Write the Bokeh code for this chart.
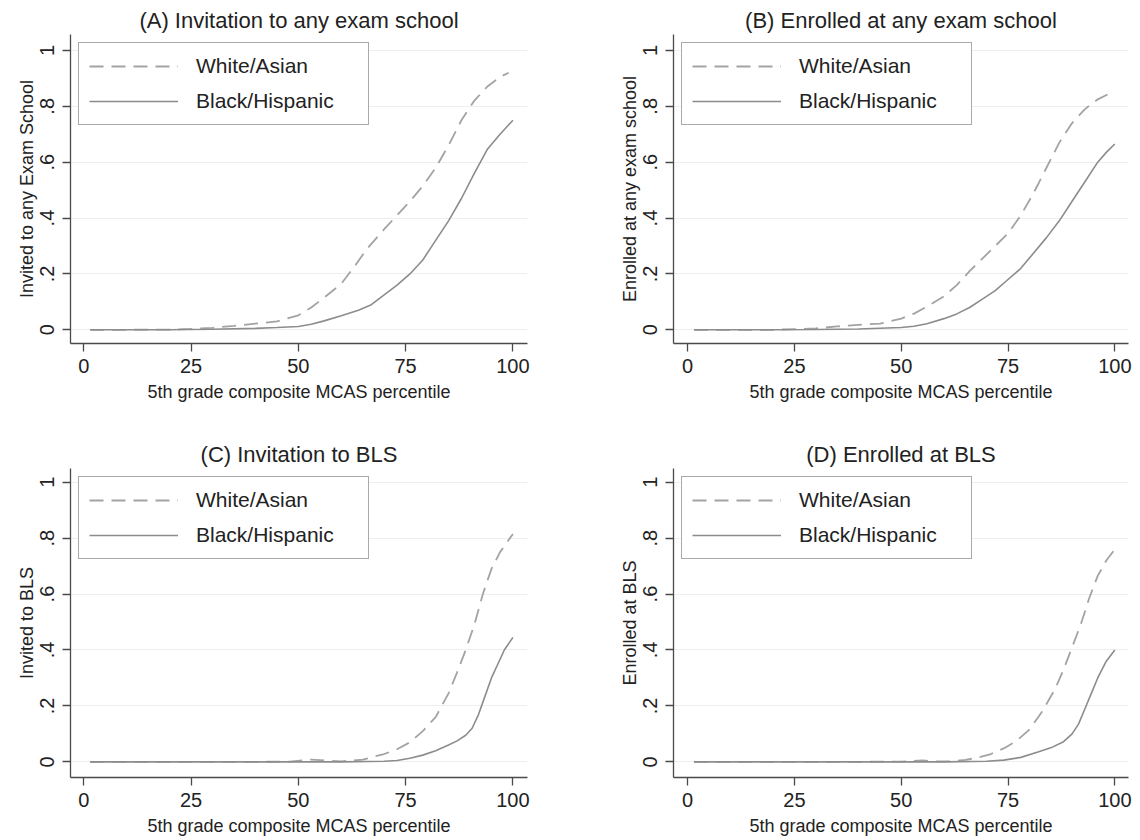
from bokeh.plotting import figure
from bokeh.models import FixedTicker, Range1d, Legend, LegendItem
from bokeh.layouts import gridplot
from bokeh.embed import file_html
from bokeh.resources import INLINE

# ---------------- data ----------------
x_label = "5th grade composite MCAS percentile"
x_ticks = [0, 25, 50, 75, 100]
y_ticks = [0, 0.2, 0.4, 0.6, 0.8, 1]
y_tick_labels = ["0", ".2", ".4", ".6", ".8", "1"]
series_names = ["White/Asian", "Black/Hispanic"]

# (A) Invitation to any exam school
a_title = "(A) Invitation to any exam school"
a_ylabel = "Invited to any Exam School"
a_x_wa = [1.5, 10, 20, 25, 30, 35, 40, 45, 50, 53, 56, 60, 63, 66, 70, 73, 76, 79, 82, 85, 88, 91, 94, 97, 99]
a_wa = [0, 0, 0.001, 0.003, 0.007, 0.014, 0.022, 0.03, 0.052, 0.08, 0.115, 0.165, 0.225, 0.29, 0.36,
        0.41, 0.46, 0.515, 0.58, 0.66, 0.75, 0.82, 0.87, 0.905, 0.92]
a_x_bh = [1.5, 10, 20, 30, 40, 45, 50, 53, 56, 60, 64, 67, 70, 73, 76, 79, 82, 85, 88, 91, 94, 97, 100]
a_bh = [0, 0, 0, 0.002, 0.005, 0.008, 0.012, 0.02, 0.032, 0.05, 0.07, 0.09, 0.125, 0.16, 0.20, 0.25,
        0.32, 0.39, 0.47, 0.56, 0.645, 0.70, 0.75]

# (B) Enrolled at any exam school
b_title = "(B) Enrolled at any exam school"
b_ylabel = "Enrolled at any exam school"
b_x_wa = [1.5, 20, 30, 35, 40, 45, 50, 53, 56, 60, 63, 66, 69, 72, 75, 78, 81, 84, 87, 90, 93, 96, 100]
b_wa = [0, 0, 0.005, 0.012, 0.018, 0.022, 0.04, 0.058, 0.083, 0.12, 0.16, 0.21, 0.255, 0.30, 0.345,
        0.41, 0.49, 0.58, 0.67, 0.74, 0.79, 0.825, 0.855]
b_x_bh = [1.5, 20, 30, 40, 50, 53, 56, 60, 63, 66, 69, 72, 75, 78, 81, 84, 87, 90, 93, 96, 98, 100]
b_bh = [0, 0, 0.001, 0.003, 0.008, 0.013, 0.022, 0.04, 0.057, 0.08, 0.11, 0.14, 0.18, 0.22, 0.275,
        0.33, 0.39, 0.46, 0.53, 0.60, 0.635, 0.665]

# (C) Invitation to BLS
c_title = "(C) Invitation to BLS"
c_ylabel = "Invited to BLS"
c_x_wa = [1.5, 20, 40, 48, 53, 56, 60, 65, 70, 73, 76, 79, 82, 85, 87, 89, 91, 93, 95, 97, 100]
c_wa = [0, 0, 0, 0.001, 0.008, 0.005, 0.002, 0.008, 0.028, 0.045, 0.07, 0.11, 0.16, 0.245, 0.32,
        0.40, 0.49, 0.60, 0.69, 0.75, 0.815]
c_x_bh = [1.5, 20, 40, 60, 70, 73, 76, 79, 82, 85, 87, 89, 90.5, 92, 93.5, 95, 96.5, 98, 100]
c_bh = [0, 0, 0, 0, 0.002, 0.005, 0.013, 0.024, 0.04, 0.06, 0.075, 0.095, 0.12, 0.17, 0.235, 0.30,
        0.35, 0.40, 0.445]

# (D) Enrolled at BLS
d_title = "(D) Enrolled at BLS"
d_ylabel = "Enrolled at BLS"
d_x_wa = [1.5, 20, 40, 50, 55, 58, 62, 65, 68, 71, 74, 77, 80, 83, 86, 88, 90, 92, 94, 96, 98, 100]
d_wa = [0, 0, 0, 0.001, 0.005, 0.002, 0.002, 0.007, 0.015, 0.028, 0.048, 0.075, 0.115, 0.18, 0.26,
        0.33, 0.41, 0.49, 0.585, 0.665, 0.72, 0.76]
d_x_bh = [1.5, 20, 40, 60, 70, 74, 78, 82, 85, 88, 90, 91.5, 93, 94.5, 96, 98, 100]
d_bh = [0, 0, 0, 0, 0.002, 0.006, 0.016, 0.035, 0.05, 0.072, 0.10, 0.135, 0.19, 0.245, 0.30, 0.36, 0.40]

# ---------------- styling ----------------
FONT = "Liberation Sans"
TEXT = "#222222"
AXIS = "#4a4a4a"
WA_COLOR = "#a3a3a3"
BH_COLOR = "#8c8c8c"


def make_panel(title, ylabel, xw, yw, xb, yb, left, right, top, bottom, xr, yr):
    p = figure(width=570, height=420, output_backend="svg", toolbar_location=None,
               x_range=Range1d(*xr), y_range=Range1d(*yr),
               min_border_left=left, min_border_right=right,
               min_border_top=top, min_border_bottom=bottom,
               background_fill_color="white", border_fill_color="white")
    p.outline_line_color = None
    p.title.text = title
    p.title.align = "center"
    p.title.text_font = FONT
    p.title.text_font_size = "22px"
    p.title.text_font_style = "normal"
    p.title.text_color = TEXT
    p.title.standoff = 4

    p.xgrid.grid_line_color = None
    p.ygrid.grid_line_color = "#eeeeee"
    p.ygrid.grid_line_width = 1

    p.xaxis.ticker = FixedTicker(ticks=x_ticks)
    p.yaxis.ticker = FixedTicker(ticks=y_ticks)
    p.yaxis.major_label_overrides = {t: s for t, s in zip(y_ticks, y_tick_labels)}
    p.yaxis.major_label_orientation = "vertical"
    for ax in (p.xaxis[0], p.yaxis[0]):
        ax.axis_line_color = AXIS
        ax.axis_line_width = 1.3
        ax.major_tick_line_color = AXIS
        ax.major_tick_line_width = 1.3
        ax.major_tick_out = 8
        ax.major_tick_in = 0
        ax.minor_tick_out = 0
        ax.minor_tick_in = 0
        ax.major_label_text_font = FONT
        ax.major_label_text_font_size = "20px"
        ax.major_label_text_color = TEXT
        ax.axis_label_text_font = FONT
        ax.axis_label_text_font_size = "18px"
        ax.axis_label_text_font_style = "normal"
        ax.axis_label_text_color = TEXT
    p.xaxis.major_label_standoff = 7
    p.yaxis.major_label_standoff = 8
    p.xaxis.axis_label = x_label
    p.yaxis.axis_label = ylabel
    p.xaxis.axis_label_standoff = 6
    p.yaxis.axis_label_standoff = 1

    r1 = p.line(xw, yw, line_color=WA_COLOR, line_width=1.8, line_dash="14 8")
    r2 = p.line(xb, yb, line_color=BH_COLOR, line_width=1.6)

    legend = Legend(items=[LegendItem(label=series_names[0], renderers=[r1]),
                           LegendItem(label=series_names[1], renderers=[r2])],
                    location="top_left", margin=8, padding=10, spacing=9,
                    label_height=26, glyph_height=26, glyph_width=89,
                    label_standoff=18, label_width=162,
                    label_text_font=FONT, label_text_font_size="21px",
                    label_text_color=TEXT,
                    border_line_color="#555555", border_line_width=1.3,
                    background_fill_color="white", background_fill_alpha=1.0)
    p.add_layout(legend)
    return p


pa = make_panel(a_title, a_ylabel, a_x_wa, a_wa, a_x_bh, a_bh,
                70, 43, 34, 77, (-3.1, 103.4), (-0.049, 1.057))
pb = make_panel(b_title, b_ylabel, b_x_wa, b_wa, b_x_bh, b_bh,
                103, 12, 34, 77, (-3.3, 103.2), (-0.049, 1.057))
pc = make_panel(c_title, c_ylabel, c_x_wa, c_wa, c_x_bh, c_bh,
                70, 43, 48, 63, (-3.1, 103.4), (-0.056, 1.049))
pd = make_panel(d_title, d_ylabel, d_x_wa, d_wa, d_x_bh, d_bh,
                103, 12, 48, 63, (-3.3, 103.2), (-0.056, 1.049))

grid = gridplot([[pa, pb], [pc, pd]], toolbar_location=None)

with open("out.html", "w") as f:
    f.write(file_html(grid, INLINE))
